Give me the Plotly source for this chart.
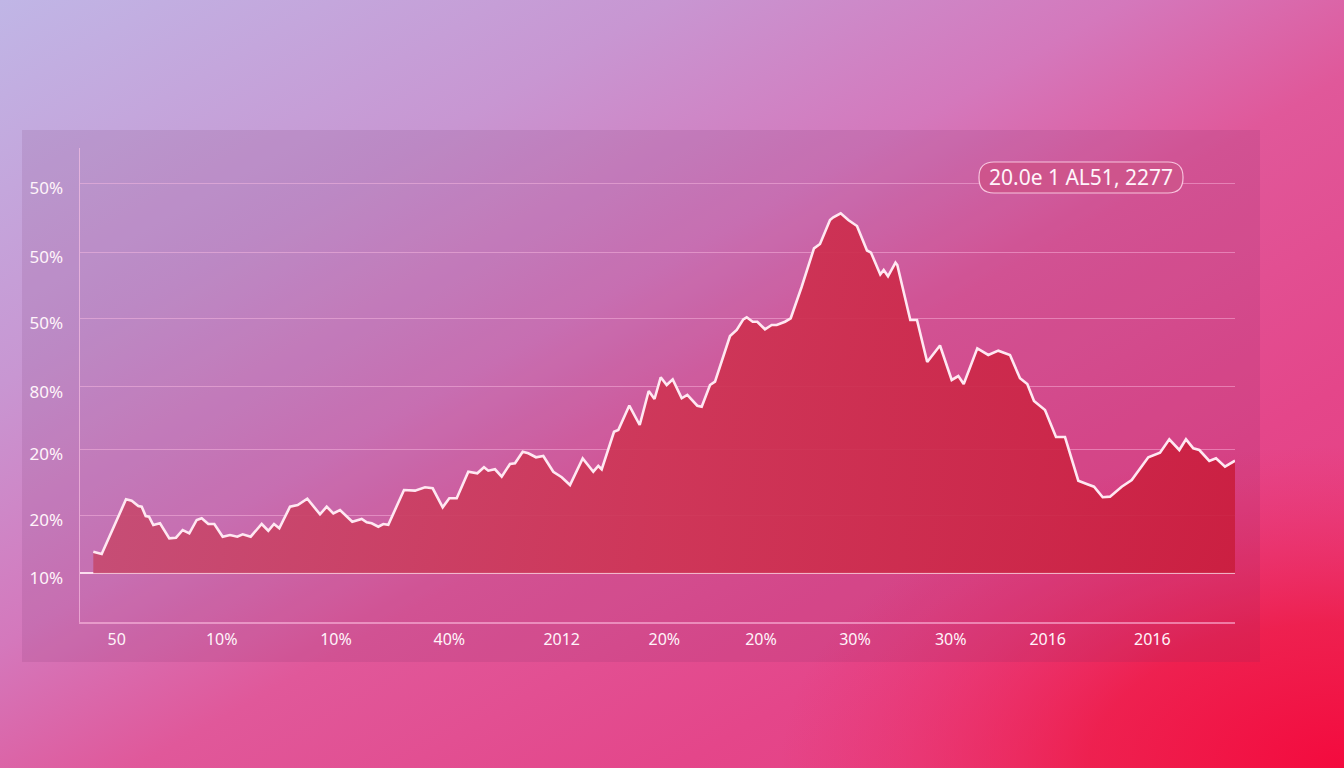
import base64
import plotly.graph_objects as go

# ---- data ----
periods = [1.33, 2.17, 4.6, 5.17, 5.83, 6.17, 6.57, 6.9, 7.33, 8.0, 8.93, 9.6, 10.27, 10.93, 11.67, 12.17,
           12.83, 13.43, 14.27, 15.0, 15.73, 16.27, 17.07, 18.17, 18.83, 19.4, 19.93, 21.0, 21.77, 22.73,
           24.0, 24.67, 25.33, 26.0, 27.23, 28.17, 28.67, 29.17, 29.83, 30.33, 30.83, 32.4, 33.5, 34.5,
           35.27, 36.27, 36.93, 37.67, 38.83, 39.73, 40.4, 40.83, 41.5, 42.17, 43.0, 43.5, 44.27, 44.83,
           45.6, 46.33, 47.33, 48.17, 49.0, 50.27, 51.33, 51.83, 52.17, 53.4, 53.83, 54.93, 55.97, 56.87,
           57.45, 58.07, 58.67, 59.27, 60.17, 60.73, 61.73, 62.17, 63.0, 63.5, 65.0, 65.67, 66.33, 66.67,
           67.27, 67.73, 68.5, 69.17, 69.67, 70.5, 71.07, 72.17, 73.4, 74.0, 75.0, 75.33, 76.07, 76.83,
           77.7, 78.7, 79.1, 80.03, 80.37, 80.8, 81.55, 81.73, 83.03, 83.7, 84.72, 86.0, 87.17, 87.83,
           88.37, 89.73, 90.83, 91.83, 93.0, 94.0, 94.73, 95.4, 96.5, 97.6, 98.5, 99.83, 100.67, 101.4,
           102.27, 103.0, 104.17, 105.17, 106.83, 108.0, 108.93, 109.93, 110.6, 111.33, 111.93, 112.93,
           113.6, 114.5, 115.5]
values = [3.27, 2.92, 11.21, 11.0, 10.2, 10.09, 8.68, 8.58, 7.32, 7.58, 5.30, 5.39, 6.56, 6.06, 8.08, 8.33,
          7.47, 7.47, 5.55, 5.80, 5.55, 5.91, 5.55, 7.47, 6.45, 7.47, 6.82, 10.09, 10.35, 11.30,
          8.94, 10.09, 9.09, 9.59, 7.82, 8.23, 7.73, 7.58, 7.06, 7.47, 7.36, 12.62, 12.52, 13.03,
          12.88, 10.0, 11.36, 11.36, 15.39, 15.15, 16.06, 15.55, 15.76, 14.64, 16.56, 16.67, 18.42, 18.18,
          17.58, 17.77, 15.39, 14.55, 13.38, 17.42, 15.39, 16.26, 15.76, 21.45, 21.71, 25.42, 22.47, 27.62,
          26.41, 29.70, 28.53, 29.39, 26.52, 27.02, 25.39, 25.24, 28.53, 29.03, 35.95, 36.86, 38.48, 38.79,
          38.12, 38.12, 36.97, 37.62, 37.62, 38.12, 38.64, 43.42, 49.24, 49.89, 53.53, 53.94, 54.55, 53.53,
          52.62, 48.91, 48.58, 45.27, 45.95, 45.0, 47.06, 46.71, 38.38, 38.38, 32.02, 34.52, 29.29, 29.89,
          28.68, 34.09, 33.08, 33.73, 33.08, 29.55, 28.68, 26.11, 24.74, 20.65, 20.65, 14.03, 13.53, 13.12,
          11.52, 11.61, 13.12, 14.14, 17.58, 18.27, 20.30, 18.68, 20.30, 18.94, 18.68, 17.02,
          17.42, 16.15, 17.06]

x_tick_vals = [3.67, 14.17, 25.6, 36.93, 48.17, 58.43, 68.1, 77.5, 87.07, 96.77, 107.23]
x_tick_text = ["50", "10%", "10%", "40%", "2012", "20%", "20%", "30%", "30%", "2016", "2016"]
y_tick_vals = [0, 8.83, 18.79, 28.27, 38.64, 48.68, 59.09]
y_tick_text = ["10%", "20%", "20%", "80%", "50%", "50%", "50%"]
badge_text = "20.0e 1 AL51, 2277"

W, H = 1344, 768

# ---- background gradient as an SVG image ----
svg = f'''<svg xmlns="http://www.w3.org/2000/svg" width="{W}" height="{H}" viewBox="0 0 {W} {H}" preserveAspectRatio="none">
<defs>
<linearGradient id="g" x1="0" y1="0" x2="1" y2="1">
<stop offset="0" stop-color="#C0B6E6"/>
<stop offset="0.25" stop-color="#C896D2"/>
<stop offset="0.42" stop-color="#D478BC"/>
<stop offset="0.55" stop-color="#E0589A"/>
<stop offset="0.75" stop-color="#E4468A"/>
<stop offset="1" stop-color="#EA3A7C"/>
</linearGradient>
<radialGradient id="r" cx="1" cy="1" r="0.42">
<stop offset="0" stop-color="#F40A3E" stop-opacity="1"/>
<stop offset="0.45" stop-color="#F0163F" stop-opacity="0.75"/>
<stop offset="1" stop-color="#EE2A60" stop-opacity="0"/>
</radialGradient>
</defs>
<rect x="0" y="0" width="{W}" height="{H}" fill="url(#g)"/>
<rect x="0" y="0" width="{W}" height="{H}" fill="url(#r)"/>
</svg>'''
bg_src = "data:image/svg+xml;base64," + base64.b64encode(svg.encode()).decode()


def px_x(p):
    return p / W


def px_y(p):
    return 1 - p / H


def rounded_rect(x0, y0, x1, y1, r):
    rx, ry = r / W, r / H
    X0, X1 = px_x(x0), px_x(x1)
    Y0, Y1 = px_y(y0), px_y(y1)  # Y0 top, Y1 bottom
    return (f"M {X0+rx},{Y0} L {X1-rx},{Y0} Q {X1},{Y0} {X1},{Y0-ry} "
            f"L {X1},{Y1+ry} Q {X1},{Y1} {X1-rx},{Y1} L {X0+rx},{Y1} "
            f"Q {X0},{Y1} {X0},{Y1+ry} L {X0},{Y0-ry} Q {X0},{Y0} {X0+rx},{Y0} Z")


fig = go.Figure()
fig.add_trace(go.Scatter(
    x=periods, y=values, mode="lines",
    line=dict(color="rgba(255,232,242,1)", width=2.6),
    fill="tozeroy",
    fillgradient=dict(type="horizontal",
                      colorscale=[[0, "rgba(198,74,112,0.92)"],
                                  [0.5, "rgba(206,52,84,0.92)"],
                                  [1, "rgba(202,30,62,0.92)"]]),
    hoverinfo="skip", showlegend=False,
))

font_family = "Noto Sans, Open Sans, DejaVu Sans, sans-serif"
label_color = "rgba(255,244,250,1)"

fig.update_layout(
    width=W, height=H, autosize=False,
    margin=dict(l=0, r=0, t=0, b=0),
    paper_bgcolor="rgba(0,0,0,0)",
    plot_bgcolor="rgba(0,0,0,0)",
    images=[dict(source=bg_src, xref="paper", yref="paper", x=0, y=1, sizex=1, sizey=1,
                 xanchor="left", yanchor="top", sizing="stretch", layer="below")],
    shapes=[
        dict(type="rect", xref="paper", yref="paper",
             x0=px_x(22), x1=px_x(1260), y0=px_y(662), y1=px_y(130),
             fillcolor="rgba(110,40,100,0.12)", line=dict(width=0), layer="below"),
        dict(type="path", xref="paper", yref="paper",
             path=rounded_rect(979, 162, 1183, 193, 15),
             fillcolor="rgba(206,84,140,1)",
             line=dict(color="rgba(255,215,235,0.85)", width=1.2), layer="above"),
    ],
    annotations=[dict(text=badge_text, xref="paper", yref="paper",
                      x=px_x(1081), y=px_y(177.5), showarrow=False,
                      xanchor="center", yanchor="middle",
                      font=dict(family=font_family, size=21, color="rgba(255,244,250,1)"))],
    xaxis=dict(
        domain=[px_x(80), px_x(1235)], range=[0, 115.5],
        showgrid=False, zeroline=False,
        showline=True, linecolor="rgba(255,195,228,0.55)", linewidth=1.5,
        tickmode="array", tickvals=x_tick_vals, ticktext=x_tick_text,
        ticks="", ticklabelstandoff=2,
        tickfont=dict(family=font_family, size=16, color=label_color),
        fixedrange=True,
    ),
    yaxis=dict(
        domain=[px_y(622), px_y(148)], range=[-7.38, 64.44],
        showgrid=True, gridcolor="rgba(255,190,228,0.45)", gridwidth=1,
        zeroline=True, zerolinecolor="rgba(255,228,242,0.95)", zerolinewidth=2,
        showline=True, linecolor="rgba(255,200,232,0.6)", linewidth=1.5,
        tickmode="array", tickvals=y_tick_vals, ticktext=y_tick_text,
        ticks="", ticklabelstandoff=12, ticklabelshift=5,
        tickfont=dict(family=font_family, size=17, color=label_color),
        fixedrange=True,
    ),
)

fig.write_html(
    "out.html",
    config={"displayModeBar": False, "staticPlot": True},
    post_script="document.body.style.margin='0';document.body.style.overflow='hidden';",
)
